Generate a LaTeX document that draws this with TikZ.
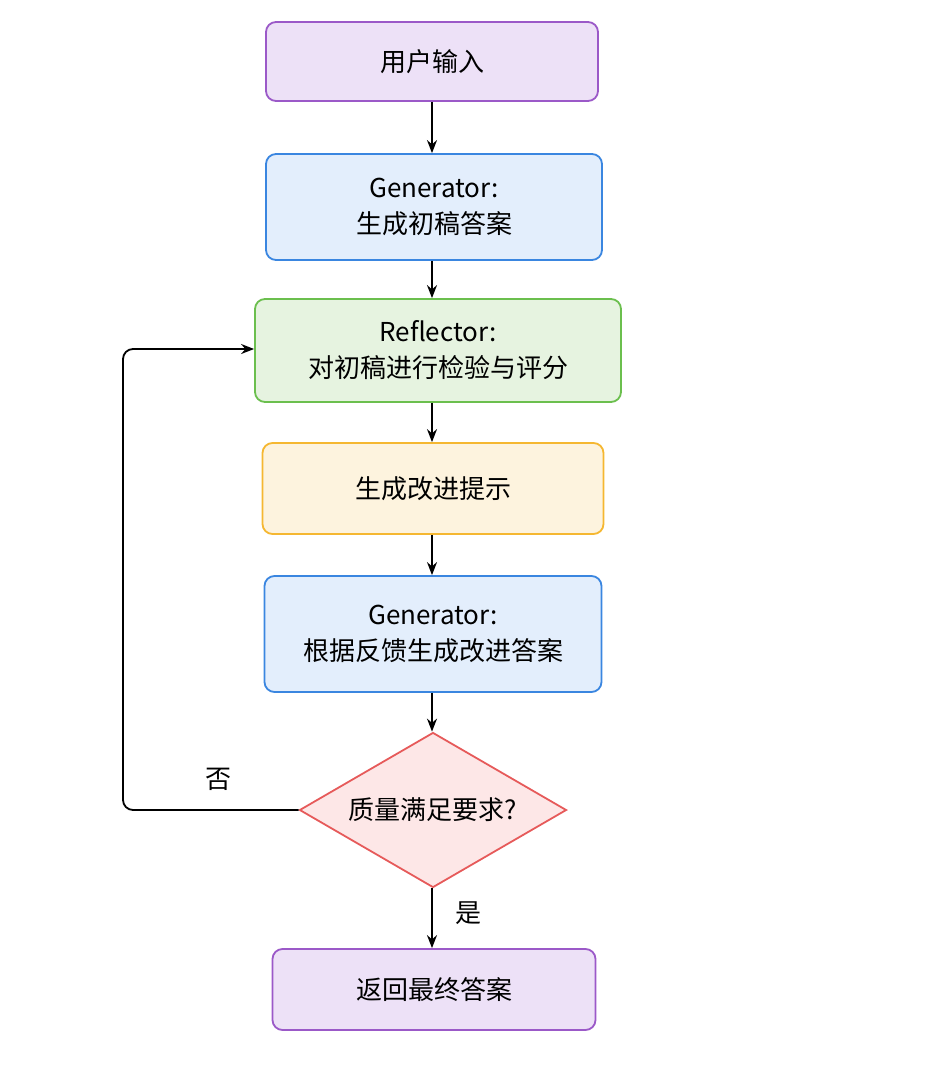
\documentclass[tikz,border=0pt]{standalone}
\usepackage{fontspec}
\setmainfont{Noto Sans CJK SC}
\usetikzlibrary{shapes.geometric,arrows.meta}
\definecolor{pf}{HTML}{EDE1F7}\definecolor{pb}{HTML}{9B59C8}
\definecolor{bf}{HTML}{E3EEFC}\definecolor{bb}{HTML}{3A86E0}
\definecolor{gf}{HTML}{E6F3E0}\definecolor{gb}{HTML}{6BBF4E}
\definecolor{yf}{HTML}{FDF3DE}\definecolor{yb}{HTML}{F5B731}
\definecolor{rf}{HTML}{FDE7E7}\definecolor{rb}{HTML}{E65A5A}
\begin{document}
\begin{tikzpicture}[x=1pt,y=-1pt,
 txt/.style={font=\fontsize{26}{36}\selectfont},
 box/.style={draw=#1b,fill=#1f,line width=1.8pt,rounded corners=10pt,align=center,txt,inner sep=0pt},
 arr/.style={-{Stealth[length=13pt,width=10pt]},line width=1.8pt,black}]
\useasboundingbox (0,0) rectangle (925,1080);
\node[box=p,minimum width=332pt,minimum height=79pt] (a) at (432,61.5) {用户输入};
\node[box=b,minimum width=336pt,minimum height=106pt] (b) at (434,207) {Generator:\\生成初稿答案};
\node[box=g,minimum width=366pt,minimum height=103pt] (c) at (438,350.5) {Reflector:\\对初稿进行检验与评分};
\node[box=y,minimum width=341pt,minimum height=91pt] (d) at (433,488.5) {生成改进提示};
\node[box=b,minimum width=337pt,minimum height=116pt] (e) at (433,634) {Generator:\\根据反馈生成改进答案};
\node[diamond,draw=rb,fill=rf,line width=1.8pt,minimum width=267pt,minimum height=155pt,aspect=1.72,inner sep=0pt] (f) at (433,810) {};
\node[txt] (ft) at (433,810) {质量满足要求?};
\node[box=p,minimum width=323pt,minimum height=81pt] (g) at (434,989.5) {返回最终答案};
\draw[arr] (a.south -| 432,0) -- (b.north -| 432,0);
\draw[arr] (b.south -| 432,0) -- (c.north -| 432,0);
\draw[arr] (c.south -| 432,0) -- (d.north -| 432,0);
\draw[arr] (d.south -| 432,0) -- (e.north -| 432,0);
\draw[arr] (e.south -| 432,0) -- (f.north -| 432,0);
\draw[arr] (f.south -| 432,0) -- (g.north -| 432,0);
\coordinate (l1) at (123,810); \coordinate (l2) at (123,349);
\draw[arr,rounded corners=10pt] (f.west) -- (l1) -- (l2) -- (c.west |- l2);
\node[txt] (no) at (218,779) {否};
\node[txt] (yes) at (468,913) {是};
\end{tikzpicture}
\end{document}
